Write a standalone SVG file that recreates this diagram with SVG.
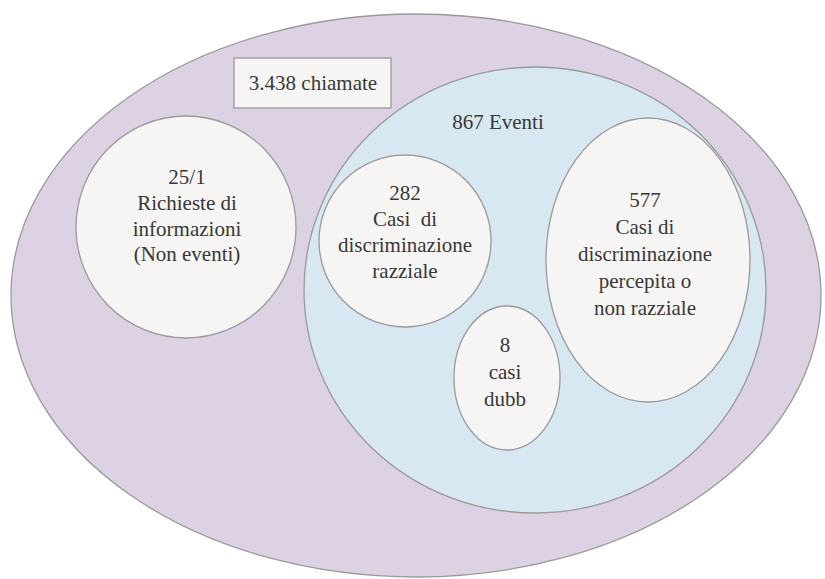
<svg xmlns="http://www.w3.org/2000/svg" width="825" height="579" viewBox="0 0 825 579">
  <style>
    .shape { stroke: #9a9a9a; stroke-width: 1.3; }
    .outer { fill: #ddd2e4; }
    .events { fill: #d7e8f2; }
    .inner { fill: #f7f5f3; }
    .box { fill: #f7f5f3; stroke: #a3a3a3; stroke-width: 1.5; }
    .t { font-family: 'Liberation Serif', 'DejaVu Serif', 'Times New Roman', serif; font-size: 21px; fill: #383838; text-anchor: middle; }
  </style>
  <rect width="825" height="579" fill="#ffffff"/>
  <g id="calls">
    <ellipse class="shape outer" cx="416" cy="295.5" rx="405" ry="281.5"/>
  </g>
  <g id="calls-label" font-family="Liberation Serif, serif">
    <rect class="box" x="234" y="58" width="157" height="50"/>
    <text class="t" x="313" y="90">3.438 chiamate</text>
  </g>
  <g id="events" font-family="Liberation Serif, serif">
    <ellipse class="shape events" cx="535" cy="290" rx="231" ry="223"/>
    <text class="t" x="498" y="129">867 Eventi</text>
  </g>
  <g id="info-requests" font-family="Liberation Serif, serif">
    <ellipse class="shape inner" cx="186" cy="227" rx="110" ry="111"/>
    <text class="t" x="187" y="184">25/1</text>
    <text class="t" x="187" y="210">Richieste di</text>
    <text class="t" x="187" y="236">informazioni</text>
    <text class="t" x="187" y="261">(Non eventi)</text>
  </g>
  <g id="racial" font-family="Liberation Serif, serif">
    <ellipse class="shape inner" cx="405" cy="241" rx="86" ry="86"/>
    <text class="t" x="405" y="200">282</text>
    <text class="t" x="405" y="226" xml:space="preserve">Casi  di</text>
    <text class="t" x="405" y="252">discriminazione</text>
    <text class="t" x="405" y="278">razziale</text>
  </g>
  <g id="perceived" font-family="Liberation Serif, serif">
    <ellipse class="shape inner" cx="648" cy="260" rx="102" ry="142"/>
    <text class="t" x="645" y="207">577</text>
    <text class="t" x="645" y="234">Casi di</text>
    <text class="t" x="645" y="261">discriminazione</text>
    <text class="t" x="645" y="288">percepita o</text>
    <text class="t" x="645" y="315">non razziale</text>
  </g>
  <g id="doubtful" font-family="Liberation Serif, serif">
    <ellipse class="shape inner" cx="507" cy="378" rx="53" ry="72"/>
    <text class="t" x="505" y="352">8</text>
    <text class="t" x="505" y="379">casi</text>
    <text class="t" x="505" y="406">dubb</text>
  </g>
  <g id="connectors"/>
</svg>
